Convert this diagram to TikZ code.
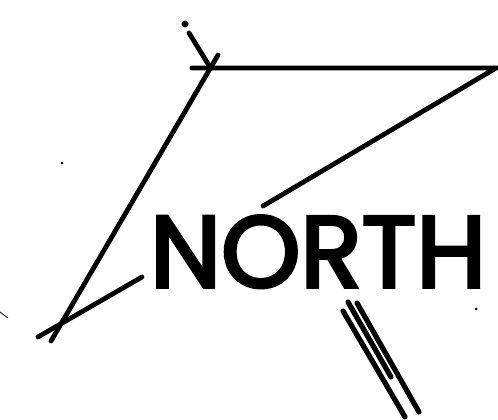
\documentclass[tikz,border=0pt]{standalone}
\usepackage{fontspec}
\usepackage{graphicx}
\setmainfont{Poppins}[FakeBold=3.5]
\begin{document}
\begin{tikzpicture}[x=1pt,y=-1pt,
  stroke/.style={line width=4.8pt,line cap=round,black},
  thin/.style={line width=0.8pt,black},
  dotmark/.style={circle,fill=black,inner sep=0pt,minimum size=#1}]
\useasboundingbox (0,0) rectangle (498,420);
% coordinates
\coordinate (ytop) at (218,55);
\coordinate (bl) at (51,341);
\coordinate (tl) at (192,68);
\coordinate (tr) at (496,68);
\coordinate (mid) at (263,206);
\coordinate (ya) at (189,33);
\coordinate (yb) at (210,67);
\coordinate (la) at (142,277);
\coordinate (lb) at (38,337);
\coordinate (ta) at (0,312);
\coordinate (tb) at (8,318);
\coordinate (p1a) at (348,302);
\coordinate (p1b) at (391,377);
\coordinate (p2a) at (343,311);
\coordinate (p2b) at (405,417);
\coordinate (p3a) at (357,303);
\coordinate (p3b) at (419,412);
% lines
\draw[stroke] (bl) -- (ytop);
\draw[stroke] (ya) -- (yb);
\draw[stroke] (tl) -- (tr) -- (mid);
\draw[stroke] (la) -- (lb);
\draw[thin] (ta) -- (tb);
\draw[stroke,line width=5.2pt] (p1a) -- (p1b);
\draw[stroke,line width=5.2pt] (p2a) -- (p2b);
\draw[stroke,line width=5.2pt] (p3a) -- (p3b);
% dots
\node[dotmark=7pt] (d1) at (185,24) {};
\node[dotmark=3pt] (d2) at (62,163) {};
\node[dotmark=3pt] (d3) at (476,309) {};
% text
\node[anchor=base west,inner sep=0pt,font=\fontsize{101}{101}\selectfont] (north) at (150,287) {\resizebox{336pt}{\height}{NORTH}};
\end{tikzpicture}
\end{document}
